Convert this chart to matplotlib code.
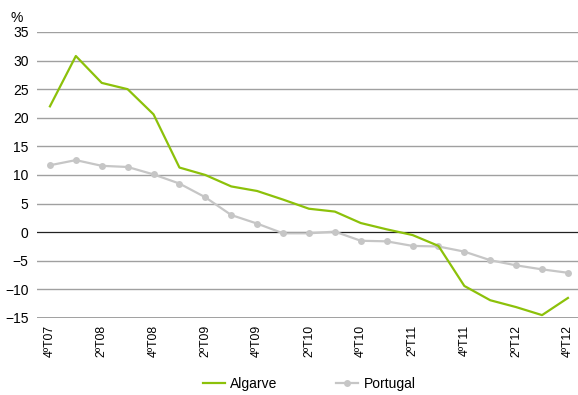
import matplotlib.pyplot as plt
import numpy as np

plt.rcParams['font.family'] = ['Liberation Sans', 'DejaVu Sans']

quarters = ['4ºT07', '1ºT08', '2ºT08', '3ºT08', '4ºT08', '1ºT09', '2ºT09', '3ºT09', '4ºT09',
            '1ºT10', '2ºT10', '3ºT10', '4ºT10', '1ºT11', '2ºT11', '3ºT11', '4ºT11',
            '1ºT12', '2ºT12', '3ºT12', '4ºT12']
algarve = [22.0, 30.8, 26.1, 25.0, 20.6, 11.3, 10.0, 8.0, 7.2, 5.7, 4.1, 3.6, 1.6,
           0.5, -0.5, -2.4, -9.4, -11.9, -13.1, -14.5, -11.5]
portugal = [11.7, 12.6, 11.6, 11.4, 10.1, 8.5, 6.1, 3.0, 1.5, -0.2, -0.2, 0.1, -1.5,
            -1.6, -2.4, -2.5, -3.4, -4.9, -5.8, -6.5, -7.1]

green = '#8cc10a'
grey = '#c6c6c6'

fig = plt.figure(figsize=(5.78, 3.95), dpi=100)
ax = fig.add_axes([0.064, 0.195, 0.941, 0.724])

x = np.arange(len(quarters))

# horizontal grid, zero line darker
for yv in range(-15, 40, 5):
    if yv == 0:
        ax.axhline(yv, color='#222222', lw=0.9, zorder=1)
    else:
        ax.axhline(yv, color='#a0a0a0', lw=1.0 if yv != -15 else 1.4, zorder=1)

ax.plot(x, algarve, color=green, lw=1.6, label='Algarve', zorder=3)
ax.plot(x, portugal, color=grey, lw=1.6, marker='o', markersize=5,
        markeredgewidth=0, label='Portugal', zorder=2)

ax.set_xlim(-0.5, len(quarters) - 0.5)
ax.set_ylim(-15, 35)
ax.set_yticks(range(-15, 40, 5))
ax.set_xticks(x[::2])
ax.set_xticklabels(quarters[::2], rotation=90, fontsize=8.8)
ax.tick_params(axis='y', labelsize=10, length=0, pad=6)
ax.tick_params(axis='x', length=0, pad=5)
for s in ax.spines.values():
    s.set_visible(False)

fig.text(0.019, 0.955, '%', fontsize=10, va='center')

fig.legend(loc='center', bbox_to_anchor=(0.535, 0.028), ncol=2, frameon=False,
           fontsize=10, handlelength=1.6, columnspacing=4.2, handletextpad=0.4)

fig.savefig('out.png', dpi=100)
